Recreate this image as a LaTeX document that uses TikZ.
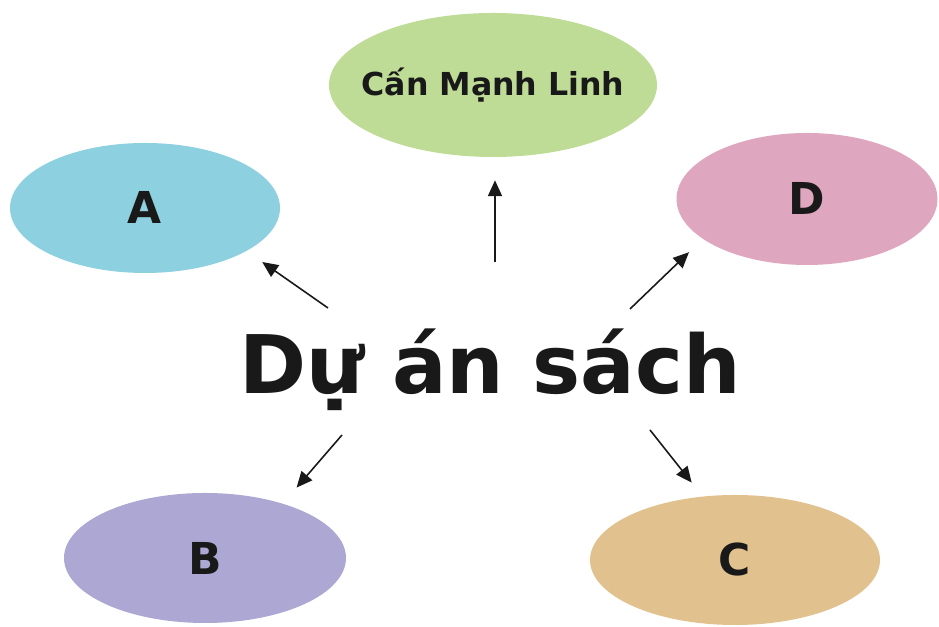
\documentclass[tikz,border=0pt]{standalone}
\usepackage{fontspec}
\setmainfont{DejaVu Sans}
\usetikzlibrary{shapes.geometric,arrows.meta}
\definecolor{ovgreen}{HTML}{BEDC96}
\definecolor{ovblue}{HTML}{8DD0E0}
\definecolor{ovpink}{HTML}{DFA6BF}
\definecolor{ovpurple}{HTML}{ADA7D3}
\definecolor{ovtan}{HTML}{E1C18E}
\begin{document}
\begin{tikzpicture}[
  oval/.style={ellipse,inner sep=0pt,text=black!90,font=\bfseries\fontsize{25}{28}\selectfont},
  pointer/.style={-{Triangle[length=9pt,width=8pt]},line width=0.9pt,black!90}]
\useasboundingbox (0,0) rectangle (18.78,12.54);

% title in the middle
\node (title) at (9.8,5.14) {\bfseries\fontsize{46}{50}\selectfont\color{black!90}Dự án sách};

% ovals
\node[oval,fill=ovgreen,minimum width=6.56cm,minimum height=2.88cm] (M) at (9.86,10.84) {};
\node[text=black!90,font=\bfseries\fontsize{18}{20}\selectfont] (Mname) at (M) {Cấn Mạnh Linh};
\node[oval,fill=ovblue,minimum width=5.4cm,minimum height=2.6cm] (A) at (2.9,8.38) {A};
\node[oval,fill=ovpink,minimum width=5.22cm,minimum height=2.64cm] (D) at (16.14,8.56) {D};
\node[oval,fill=ovpurple,minimum width=5.64cm,minimum height=2.6cm] (B) at (4.1,1.38) {B};
\node[oval,fill=ovtan,minimum width=5.8cm,minimum height=2.6cm] (C) at (14.7,1.34) {C};

% arrow tails
\coordinate (tA) at (6.56,6.38);
\coordinate (tM) at (9.9,7.3);
\coordinate (tD) at (12.6,6.36);
\coordinate (tB) at (6.84,3.84);
\coordinate (tC) at (13.0,3.94);

\draw[pointer,shorten >=0.38cm] (tA) -- (A.-23);
\draw[pointer,shorten >=0.46cm] (tM) -- (tM |- M.south);
\draw[pointer,shorten >=0.38cm] (tD) -- (D.201);
\draw[pointer,shorten >=0.42cm] (tB) -- (B.35);
\draw[pointer,shorten >=0.35cm] (tC) -- (C.117);
\end{tikzpicture}
\end{document}
